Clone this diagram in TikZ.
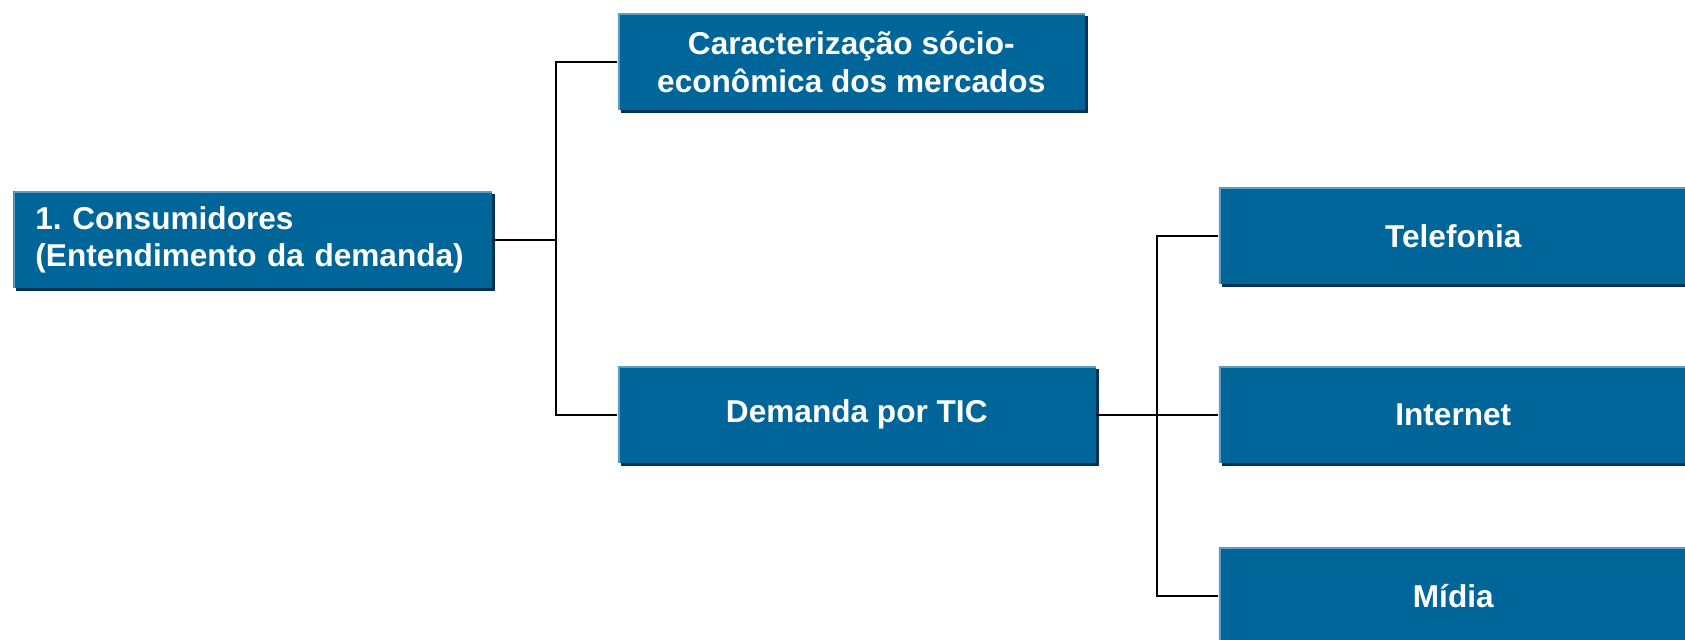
\documentclass[tikz,border=0pt]{standalone}
\usepackage{fontspec}
\setmainfont{Liberation Sans}
\usetikzlibrary{matrix,shadows}
\definecolor{boxblue}{RGB}{0,101,153}
\definecolor{boxedge}{RGB}{96,156,192}
\definecolor{boxshade}{RGB}{0,52,86}
\frenchspacing
\begin{document}
\begin{tikzpicture}
  [bluebox/.style={fill=boxblue, text=white,
     font=\fontsize{15.8}{18.8}\selectfont\bfseries,
     minimum height=48.5pt, inner xsep=11pt, align=center,
     drop shadow={shadow xshift=1.5pt, shadow yshift=-1.5pt, fill=boxshade, opacity=1},
     path picture={\draw[boxedge, line width=2pt]
       (path picture bounding box.south west) -- (path picture bounding box.north west)
       -- (path picture bounding box.north east);}},
   column 1/.style={anchor=west},
   column 2/.style={anchor=west},
   column 3/.style={anchor=west},
   link/.style={line width=1pt}]
  \useasboundingbox (-6.5pt,95.5pt) rectangle (836pt,-224.5pt);
  \matrix [matrix anchor=cons.north west, column sep=62.5pt, row sep=40.5pt] at (0,0)
  {
    & \node [bluebox, minimum width=233.5pt] (carac) {Caracterização sócio-\\econômica dos mercados}; &[-1.2pt] \\[-2pt]
    \node [bluebox, text width=217.5pt, align=left] (cons) {1. Consumidores\\(Entendimento da demanda)}; & &[-1.2pt] \node [bluebox, minimum width=234.5pt, yshift=2pt] (tel) {Telefonia}; \\[-1.6pt]
    & \node [bluebox, minimum width=239pt] (dem) {Demanda por TIC}; &[-1.2pt] \node [bluebox, minimum width=234.5pt] (int) {Internet}; \\[1.6pt]
    & &[-1.2pt] \node [bluebox, minimum width=234.5pt] (midia) {Mídia}; \\
  };
  % left fork
  \draw [link] (cons.east) -- ++(31.5pt,0) coordinate (fork1) |- (carac.west);
  \draw [link] (fork1) |- (dem.west);
  % right fork
  \draw [link] (dem.east) -- ++(30.5pt,0) coordinate (fork2) |- (tel.west);
  \draw [link] (fork2) |- (midia.west);
  \draw [link] (fork2) -- (int.west);
\end{tikzpicture}
\end{document}
